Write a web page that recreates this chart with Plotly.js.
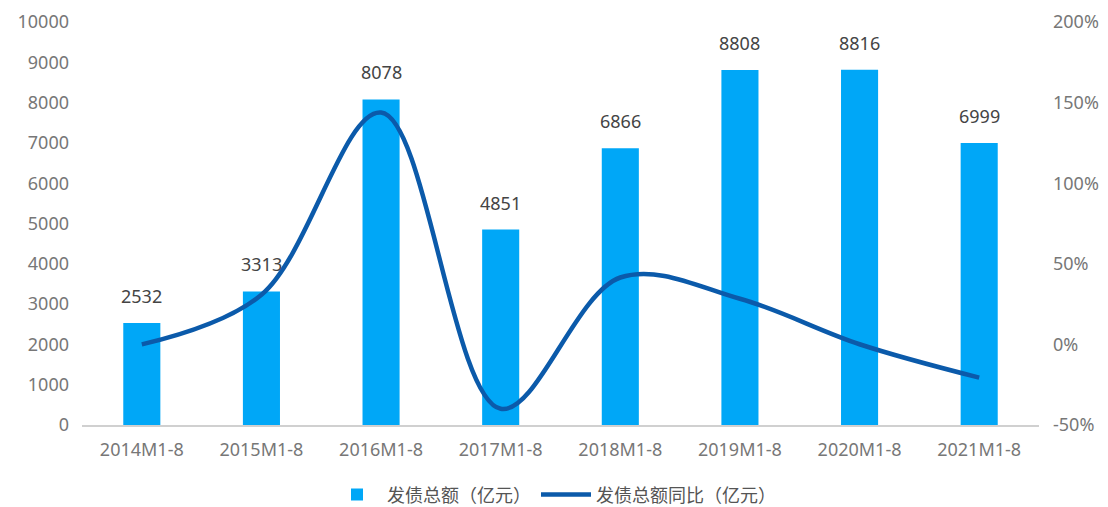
<!DOCTYPE html>
<html>
<head>
<meta charset="utf-8">
<script src="https://cdn.plot.ly/plotly-3.0.1.min.js"></script>
<style>html,body{margin:0;padding:0;background:#fff;}#chart{width:1108px;height:507px;}</style>
</head>
<body>
<div id="chart"></div>
<script>
const categories = ["2014M1-8","2015M1-8","2016M1-8","2017M1-8","2018M1-8","2019M1-8","2020M1-8","2021M1-8"];
const issuance = [2532, 3313, 8078, 4851, 6866, 8808, 8816, 6999];
const yoy = [0.0, 0.308, 1.438, -0.399, 0.415, 0.283, 0.001, -0.206];
const barName = "发债总额（亿元）";
const lineName = "发债总额同比（亿元）";
const leftTicks = [0,1000,2000,3000,4000,5000,6000,7000,8000,9000,10000];
const leftTickText = ["0","1000","2000","3000","4000","5000","6000","7000","8000","9000","10000"];
const rightTicks = [-0.5,0,0.5,1,1.5,2];
const rightTickText = ["-50%","0%","50%","100%","150%","200%"];

const font = "Noto Sans, Noto Sans CJK SC, sans-serif";
const cjkFont = "Noto Sans CJK SC, Noto Sans, sans-serif";

const bars = {
  type: "bar", x: categories, y: issuance, name: barName,
  marker: {color: "#00A7F7"}, width: 0.31, hoverinfo: "x+y"
};
const line = {
  type: "scatter", mode: "lines", x: categories, y: yoy, name: lineName, yaxis: "y2",
  line: {color: "#0B5AAA", width: 4.5, shape: "spline", smoothing: 1.0}
};
const annotations = categories.map((c, i) => ({
  x: c, y: issuance[i], xref: "x", yref: "y", text: String(issuance[i]),
  showarrow: false, yanchor: "bottom", yshift: 13,
  font: {family: font, size: 18, color: "#444"}
}));

const layout = {
  width: 1108, height: 507,
  margin: {l: 82, r: 69, t: 22, b: 82, autoexpand: false},
  paper_bgcolor: "#fff", plot_bgcolor: "#fff",
  font: {family: font, color: "#777", size: 18},
  showlegend: true,
  legend: {orientation: "h", x: 0.5, xanchor: "center", xref: "container",
           y: 0.024, yanchor: "middle", yref: "container", itemwidth: 50,
           font: {family: cjkFont, size: 18, color: "#555"}},
  xaxis: {type: "category", showgrid: false, zeroline: false, showline: true, automargin: false,
          linecolor: "#d0d0d0", linewidth: 1.5, ticks: "", ticklabelstandoff: 8,
          tickfont: {size: 18, color: "#777"}},
  yaxis: {range: [0, 10000], tickvals: leftTicks, ticktext: leftTickText, showgrid: false, zeroline: false,
          showline: false, ticks: "", ticklabelstandoff: 12, automargin: false,
          tickfont: {size: 18, color: "#777"}},
  yaxis2: {overlaying: "y", side: "right", range: [-0.5, 2], tickvals: rightTicks, ticktext: rightTickText,
           showgrid: false, zeroline: false, showline: false, ticks: "", automargin: false,
           ticklabelstandoff: 13, tickfont: {size: 18, color: "#777"}},
  annotations: annotations
};

Plotly.newPlot("chart", [bars, line], layout, {displayModeBar: false, staticPlot: true});
</script>
</body>
</html>
